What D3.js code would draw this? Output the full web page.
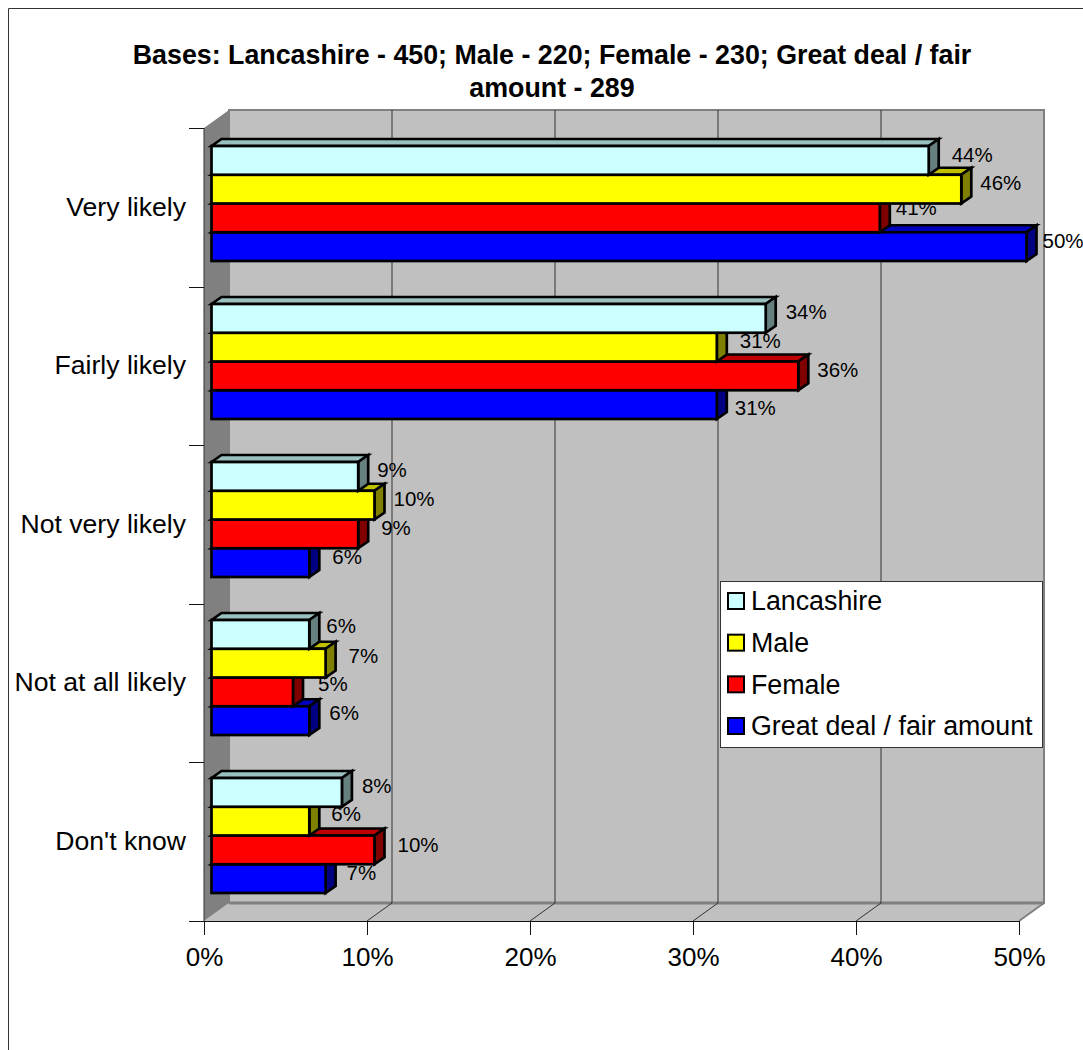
<!DOCTYPE html>
<html><head><meta charset="utf-8">
<script src="https://cdnjs.cloudflare.com/ajax/libs/d3/7.8.5/d3.min.js"></script>
<style>html,body{margin:0;padding:0;background:#fff}svg{display:block}text{font-family:"Liberation Sans",Arial,sans-serif;fill:#000}</style>
</head><body><svg id="c" width="1083" height="1050"></svg>
<script>
const titleLines = ["Bases: Lancashire - 450; Male - 220; Female - 230; Great deal / fair", "amount - 289"];
const categories = ["Very likely","Fairly likely","Not very likely","Not at all likely","Don't know"];
const seriesNames = ["Lancashire","Male","Female","Great deal / fair amount"];
const lancashire = [44,34,9,6,8];
const male = [46,31,10,7,6];
const female = [41,36,9,5,10];
const greatDeal = [50,31,6,6,7];
const xTicks = [0,10,20,30,40,50];
const frontColors = ["#CCFFFF","#FFFF00","#FF0000","#0000FF"];
const topColors = ["#99BFBF","#BFBF00","#BF0000","#0000BF"];
const sideColors = ["#668080","#808000","#800000","#000080"];
const labelDx = [[23,19,16,16],[20,23,19,18],[19,19,23,23],[17,23,25,20],[20,22,23,21]];
const labelDy = [[-6,-6,-10,-6],[-7,-6,-6,3],[-7,-6,-6,-6],[-9,-7,-8,-8],[-7,-7,-5,-6]];
const series = [lancashire,male,female,greatDeal];

const svg = d3.select("#c");
const x = d3.scaleLinear().domain([0,50]).range([204,1019]);
const depth = {dx:25, dy:-18};
const barOff = 7.5, bd = {dx:10, dy:-7};
const yTick = d3.scaleBand().domain(categories).range([128,921]);
const yBar = d3.scaleBand().domain(categories).range([146,936]);
const rowH = 28.75;
const ySer = d3.scaleBand().domain(d3.range(4)).range([0,rowH*4]);
const bottom = 921, top_ = 128;

svg.append("path").attr("d","M8.5,1050V8.5H1083").attr("fill","none").attr("stroke","#333").attr("stroke-width",1);
svg.append("g").selectAll("text").data(titleLines).join("text")
  .attr("x",552).attr("y",(d,i)=>64+i*33).attr("text-anchor","middle")
  .attr("font-weight","bold").attr("font-size",26.8).text(d=>d);
const bx = v=>x(v)+depth.dx;
svg.append("rect").attr("x",bx(0)).attr("y",top_+depth.dy).attr("width",x(50)-x(0)).attr("height",bottom-top_)
  .attr("fill","#C0C0C0").attr("stroke","#808080").attr("stroke-width",2);
svg.append("polygon").attr("points",[[x(0),bottom],[bx(0),bottom+depth.dy],[bx(50),bottom+depth.dy],[x(50),bottom]].join(" ")).attr("fill","#C0C0C0");
svg.append("line").attr("x1",bx(0)).attr("x2",bx(50)).attr("y1",bottom+depth.dy).attr("y2",bottom+depth.dy).attr("stroke","#808080").attr("stroke-width",3);
svg.append("line").attr("x1",x(50)).attr("x2",bx(50)).attr("y1",bottom).attr("y2",bottom+depth.dy).attr("stroke","#808080").attr("stroke-width",2);
svg.append("polygon").attr("points",[[x(0),top_],[bx(0),top_+depth.dy],[bx(0),bottom+depth.dy],[x(0),bottom]].join(" ")).attr("fill","#808080");
svg.append("g").selectAll("path").data(xTicks.slice(1,-1)).join("path")
  .attr("d",d=>`M${x(d)},${bottom}L${bx(d)},${bottom+depth.dy}V${top_+depth.dy}`)
  .attr("fill","none").attr("stroke","#333").attr("stroke-width",1);
const axisX = svg.append("g").attr("transform",`translate(0,${bottom})`).call(d3.axisBottom(x).tickValues(xTicks).tickFormat(d=>d+"%").tickSize(14).tickPadding(13));
axisX.selectAll("text").attr("font-size",26).style("font-family",'"Liberation Sans",Arial,sans-serif');
axisX.select(".domain").attr("d",`M189,0.5H${x(50)}`).attr("stroke","#111");
axisX.selectAll(".tick line").attr("stroke","#111");
svg.append("line").attr("x1",x(0)).attr("x2",x(0)).attr("y1",top_).attr("y2",bottom).attr("stroke","#333");
const tickYs = categories.map(c=>yTick(c));
svg.append("g").selectAll("line").data(tickYs).join("line")
  .attr("x1",189).attr("x2",x(0)).attr("y1",d=>Math.round(d)+.5).attr("y2",d=>Math.round(d)+.5).attr("stroke","#111");
svg.append("g").selectAll("text").data(categories).join("text")
  .attr("x",186).attr("y",d=>yTick(d)+yTick.bandwidth()/2-1).attr("dy","0.35em").attr("text-anchor","end").attr("font-size",26.6).text(d=>d);
// bars and labels, lowest series first so each upper bar covers what lies behind it
const layer = svg.append("g");
const xb = v=>x(v)+barOff;
categories.forEach((c,ci)=>{
  d3.range(series.length-1,-1,-1).forEach(si=>{
    const v = series[si][ci];
    const y0 = yBar(c)+ySer(si), y1 = y0+ySer.bandwidth(), x0 = xb(0), x1 = xb(v);
    const g = layer.append("g").attr("stroke","#000").attr("stroke-width",2.7).attr("stroke-linejoin","miter");
    g.append("polygon").attr("points",[[x0,y0],[x0+bd.dx,y0+bd.dy],[x1+bd.dx,y0+bd.dy],[x1,y0]].join(" ")).attr("fill",topColors[si]);
    g.append("polygon").attr("points",[[x1,y0],[x1+bd.dx,y0+bd.dy],[x1+bd.dx,y1+bd.dy],[x1,y1]].join(" ")).attr("fill",sideColors[si]);
    g.append("rect").attr("x",x0).attr("y",y0).attr("width",x1-x0).attr("height",y1-y0).attr("fill",frontColors[si]);
    layer.append("text").attr("x",xb(v)+labelDx[ci][si]).attr("y",y0+rowH/2+labelDy[ci][si])
      .attr("dy","0.35em").attr("font-size",20.5).attr("fill","#111").text(v+"%");
  });
});
const leg = svg.append("g");
const legY = d3.scalePoint().domain(seriesNames).range([601,726]);
leg.append("rect").attr("x",720.5).attr("y",581.5).attr("width",322).attr("height",166).attr("fill","#fff").attr("stroke","#333");
leg.selectAll("rect.k").data(seriesNames).join("rect").attr("class","k").attr("x",728).attr("y",d=>legY(d)-8).attr("width",16).attr("height",16)
  .attr("fill",(d,i)=>frontColors[i]).attr("stroke","#000").attr("stroke-width",2);
leg.selectAll("text").data(seriesNames).join("text").attr("x",751).attr("y",d=>legY(d)).attr("dy","0.35em").attr("font-size",26.8).text(d=>d);
</script></body></html>
